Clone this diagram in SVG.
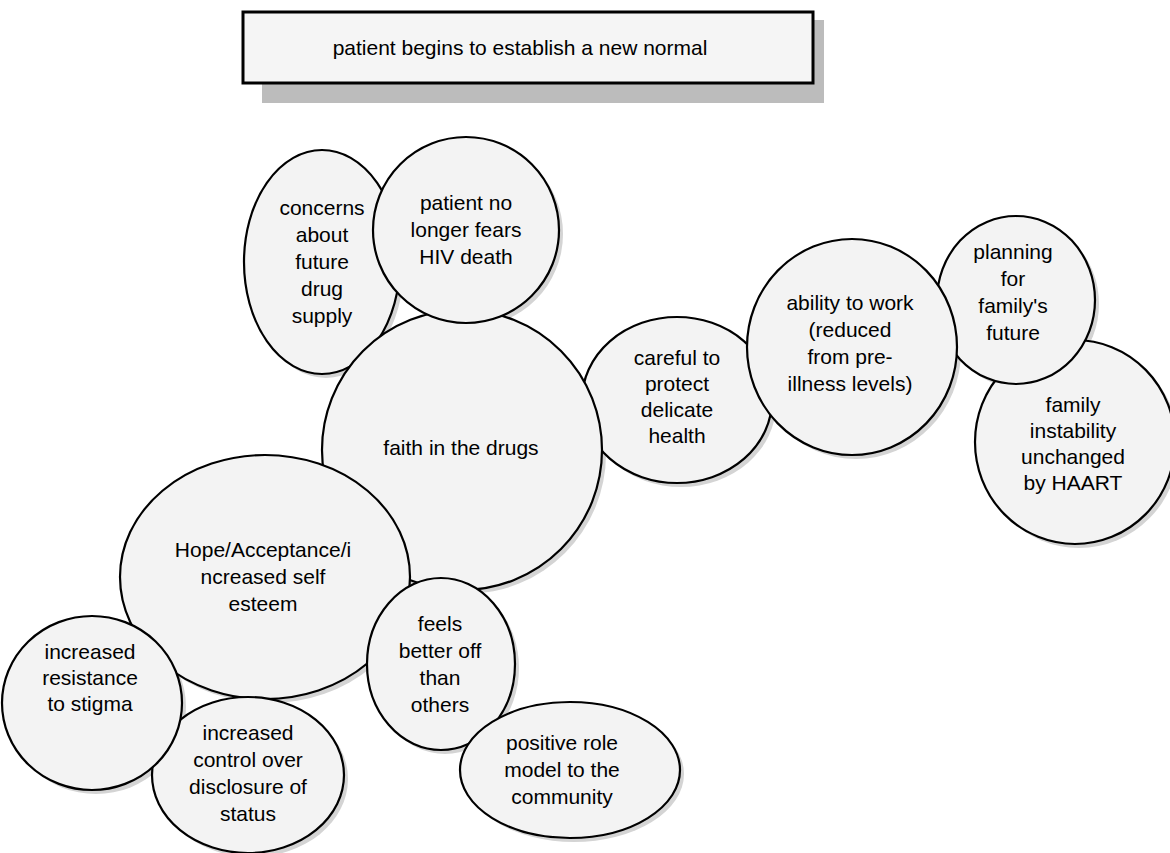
<svg xmlns="http://www.w3.org/2000/svg" width="1170" height="853" viewBox="0 0 1170 853">
<style>
.bub{fill:#f3f3f3;stroke:#000;stroke-width:2.2}
.sh{fill:#d4d4d4}
.t{font-family:"Liberation Sans",Arial,sans-serif;font-size:21px;fill:#000;text-anchor:middle}
</style>
<rect width="1170" height="853" fill="#fff"/>
<g id="header">
<rect x="262" y="20" width="562" height="83" fill="#bcbcbc"/>
<rect x="243" y="12" width="570" height="71" fill="#f5f5f5" stroke="#000" stroke-width="3"/>
<text class="t" x="520" y="55">patient begins to establish a new normal</text>
</g>
<g id="shadows" class="sh">
<ellipse cx="326" cy="266" rx="78" ry="112"/>
<ellipse cx="681" cy="404" rx="95" ry="83"/>
<ellipse cx="1079" cy="446" rx="100" ry="102"/>
<ellipse cx="1020" cy="304" rx="79" ry="84"/>
<ellipse cx="856" cy="351" rx="105" ry="108"/>
<ellipse cx="466" cy="454" rx="140" ry="140"/>
<ellipse cx="470" cy="234" rx="93" ry="93"/>
<ellipse cx="269" cy="581" rx="145" ry="122"/>
<ellipse cx="252" cy="779" rx="96" ry="78"/>
<ellipse cx="96" cy="707" rx="90" ry="87"/>
<ellipse cx="445" cy="668" rx="74" ry="86"/>
<ellipse cx="574" cy="774" rx="110" ry="68"/>
</g>
<g id="n-concerns">
<ellipse class="bub" cx="322" cy="262" rx="78" ry="112"/>
<text class="t" x="322" y="215">concerns</text>
<text class="t" x="322" y="242">about</text>
<text class="t" x="322" y="269">future</text>
<text class="t" x="322" y="296">drug</text>
<text class="t" x="322" y="323">supply</text>
</g>
<g id="n-careful">
<ellipse class="bub" cx="677" cy="400" rx="95" ry="83"/>
<text class="t" x="677" y="365">careful to</text>
<text class="t" x="677" y="391">protect</text>
<text class="t" x="677" y="417">delicate</text>
<text class="t" x="677" y="443">health</text>
</g>
<g id="n-instability">
<ellipse class="bub" cx="1075" cy="442" rx="100" ry="102"/>
<text class="t" x="1073" y="412">family</text>
<text class="t" x="1073" y="438">instability</text>
<text class="t" x="1073" y="464">unchanged</text>
<text class="t" x="1073" y="490">by HAART</text>
</g>
<g id="n-planning">
<ellipse class="bub" cx="1016" cy="300" rx="79" ry="84"/>
<text class="t" x="1013" y="259">planning</text>
<text class="t" x="1013" y="286">for</text>
<text class="t" x="1013" y="313">family's</text>
<text class="t" x="1013" y="340">future</text>
</g>
<g id="n-ability">
<ellipse class="bub" cx="852" cy="347" rx="105" ry="108"/>
<text class="t" x="850" y="310">ability to work</text>
<text class="t" x="850" y="337">(reduced</text>
<text class="t" x="850" y="364">from pre-</text>
<text class="t" x="850" y="391">illness levels)</text>
</g>
<g id="n-faith">
<ellipse class="bub" cx="462" cy="450" rx="140" ry="140"/>
<text class="t" x="461" y="455">faith in the drugs</text>
</g>
<g id="n-patient">
<ellipse class="bub" cx="466" cy="230" rx="93" ry="93"/>
<text class="t" x="466" y="210">patient no</text>
<text class="t" x="466" y="237">longer fears</text>
<text class="t" x="466" y="264">HIV death</text>
</g>
<g id="n-hope">
<ellipse class="bub" cx="265" cy="577" rx="145" ry="122"/>
<text class="t" x="263" y="557">Hope/Acceptance/i</text>
<text class="t" x="263" y="584">ncreased self</text>
<text class="t" x="263" y="611">esteem</text>
</g>
<g id="n-control">
<ellipse class="bub" cx="248" cy="775" rx="96" ry="78"/>
<text class="t" x="248" y="740">increased</text>
<text class="t" x="248" y="767">control over</text>
<text class="t" x="248" y="794">disclosure of</text>
<text class="t" x="248" y="821">status</text>
</g>
<g id="n-resistance">
<ellipse class="bub" cx="92" cy="703" rx="90" ry="87"/>
<text class="t" x="90" y="659">increased</text>
<text class="t" x="90" y="685">resistance</text>
<text class="t" x="90" y="711">to stigma</text>
</g>
<g id="n-feels">
<ellipse class="bub" cx="441" cy="664" rx="74" ry="86"/>
<text class="t" x="440" y="631">feels</text>
<text class="t" x="440" y="658">better off</text>
<text class="t" x="440" y="685">than</text>
<text class="t" x="440" y="712">others</text>
</g>
<g id="n-positive">
<ellipse class="bub" cx="570" cy="770" rx="110" ry="68"/>
<text class="t" x="562" y="750">positive role</text>
<text class="t" x="562" y="777">model to the</text>
<text class="t" x="562" y="804">community</text>
</g>
<g id="connectors"></g>
</svg>
